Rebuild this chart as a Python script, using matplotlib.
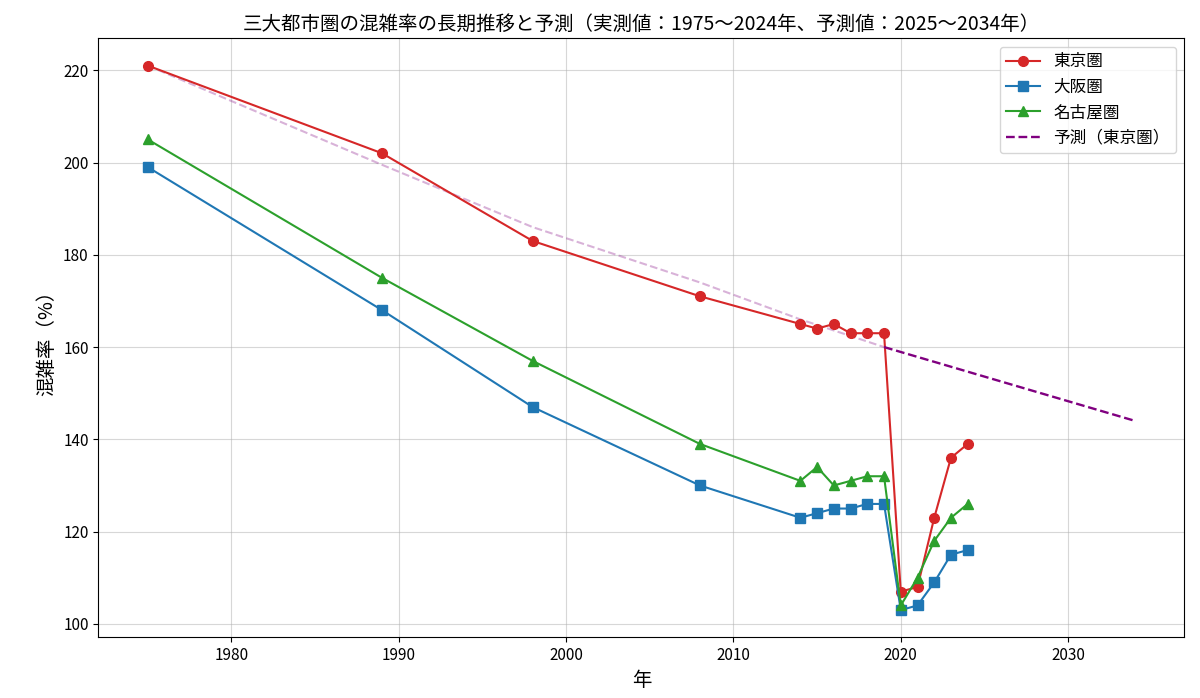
import matplotlib
matplotlib.use("Agg")
import matplotlib.pyplot as plt

plt.rcParams["font.family"] = ["Noto Sans CJK JP", "DejaVu Sans"]

# ── データ ────────────────────────────────────────
years = [1975, 1989, 1998, 2008, 2014, 2015, 2016, 2017, 2018, 2019,
         2020, 2021, 2022, 2023, 2024]
tokyo = [221, 202, 183, 171, 165, 164, 165, 163, 163, 163,
         107, 108, 123, 136, 139]
osaka = [199, 168, 147, 130, 123, 124, 125, 125, 126, 126,
         103, 104, 109, 115, 116]
nagoya = [205, 175, 157, 139, 131, 134, 130, 131, 132, 132,
          104, 110, 118, 123, 126]

fit_years = [1975, 1989, 1998, 2008, 2014, 2019]
fit_vals = [221, 199.5, 186, 174, 166, 160]
pred_years = [2019, 2034]
pred_vals = [160, 144]

# ── グラフ ────────────────────────────────────────
fig, ax = plt.subplots(figsize=(12, 6.98), dpi=100)
fig.subplots_adjust(left=0.082, right=0.987, top=0.945, bottom=0.087)

ax.plot(fit_years, fit_vals, color="purple", linestyle="--", alpha=0.3, linewidth=1.5)
ax.plot(years, tokyo, color="#d62728", marker="o", markersize=7, label="東京圏")
ax.plot(years, osaka, color="#1f77b4", marker="s", markersize=7, label="大阪圏")
ax.plot(years, nagoya, color="#2ca02c", marker="^", markersize=7, label="名古屋圏")
ax.plot(pred_years, pred_vals, color="purple", linestyle="--", linewidth=1.7,
        label="予測（東京圏）")

ax.set_title("三大都市圏の混雑率の長期推移と予測（実測値：1975〜2024年、予測値：2025〜2034年）",
             fontsize=14)
ax.set_xlabel("年", fontsize=14)
ax.set_ylabel("混雑率（%）", fontsize=14)
ax.set_yticks(range(100, 221, 20))
ax.tick_params(labelsize=11)
ax.grid(alpha=0.5)
ax.legend(fontsize=12, loc="upper right")

plt.savefig("out.png", dpi=100)
